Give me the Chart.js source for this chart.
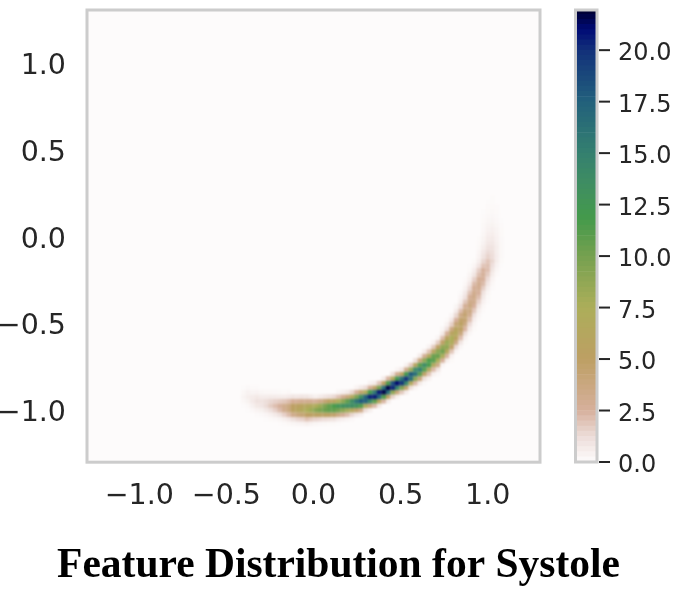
<!DOCTYPE html>
<html><head><meta charset="utf-8">
<style>html,body{margin:0;padding:0;background:#fff;overflow:hidden}
#wrap{position:relative;width:681px;height:613px}
canvas{position:absolute;top:0;display:block}</style>
<script src="https://cdn.jsdelivr.net/npm/chart.js@4"></script></head>
<body><div id="wrap"><canvas id="main" width="681" height="613" style="left:0"></canvas><canvas id="bar" width="121" height="480" style="left:560px"></canvas></div>
<script>
const titleText = "Feature Distribution for Systole";
const axisTicks = [-1, -0.5, 0, 0.5, 1];
const axisMin = -1.3, axisMax = 1.3, binCount = 100;
const colourbarTicks = [0, 2.5, 5, 7.5, 10, 12.5, 15, 17.5, 20];
const colourbarMax = 21.95;
const colourStops = [[0,"#fdfbfb"],[1.25,"#ecdcd8"],[2.5,"#d6b09c"],[5,"#bd9f63"],[7.5,"#acae5a"],[10,"#75a04f"],[11.8,"#449a4b"],[13.5,"#3f8d62"],[15,"#34806f"],[17.5,"#22607c"],[20,"#12307a"],[21,"#000a75"],[21.95,"#00002f"]];
// lower arc, listed by column
const firstColumn = 34;
const firstRows = [12,11,11,10,10,9,9,9,8,8,8,8,8,8,8,8,8,8,8,8,8,8,9,9,9,10,10,11,11,12,12,13,13,14,14,15,15,16,16,17,17,18,19,19];
const columnValues = [
[.05,.18,.3,.18,.05],
[.04,.14,.34,.5,.36,.12],
[.15,.43,.68,.61,.29,.08],
[.07,.31,.74,1,.74,.31,.07],
[.12,.42,.87,.97,.61,.21],
[.04,.23,.73,1.25,1.17,.6,.17],
[.1,.4,1.1,1.7,1.4,.65,.17],
[.15,.65,1.55,2.1,1.55,.65,.15],
[.03,.26,1,2.15,2.6,1.7,.62,.13],
[.07,.46,1.55,3,3.15,1.85,.6,.1],
[.14,.72,2.16,3.75,3.75,2.16,.72,.14],
[.22,1.1,3.2,5.25,5,2.75,.85],
[.3,1.4,3.8,5.85,5.25,2.7,.8],
[.33,1.55,4.2,6.4,5.8,3,.9],
[.45,2,5,7.3,6.2,3,.85],
[.33,1.7,5.2,8.1,6.7,2.9,.66],
[.2,1.5,5.3,9.1,7.2,2.7,.45],
[.16,1.35,5.3,9.7,8.3,3.35,.64],
[.13,1.2,5.3,10.3,9.6,4.2,.9],
[.1,1.1,5.1,10.7,10.7,5.1,1.1],
[.1,1,4.7,10.7,11.6,5.9,1.35],
[.05,.64,3.7,10,12.6,7.4,2,.26],
[.44,2.9,9,13.2,9,2.9,.44],
[.28,2.2,8,13.6,10.8,4,.7],
[.15,1.4,6.4,13.6,13.6,6.4,1.4],
[.8,4.8,13,16.2,9.6,2.6,.33],
[.47,3.4,11.3,17.9,13.3,4.5,.7],
[1.2,7,17.4,17.4,7,1.2],
[.5,3.9,14.1,20.4,11.9,2.8,.4],
[2.3,10.9,20.6,15.7,4.8,.6],
[.75,5.8,17.2,20.6,9.9,1.9],
[2.4,11.4,21.6,16.5,5,.66],
[.66,5,16.5,21.6,11.4,2.4],
[1.5,8.9,20.3,18.5,6.8,1.1],
[.45,4,14.6,21.1,12.3,2.9,.3],
[1.8,9.4,19.7,16.4,5.5,.8],
[.6,4.5,14.4,19.9,12,3.2,.4],
[1.1,6.6,16.3,17.9,8.4,1.7],
[.27,2.3,9,16.5,14.1,5.8,1.1],
[.7,3.9,11,15.5,11,3.9,.7],
[.14,1.1,4.9,11.3,13.9,8.8,2.9,.56],
[.38,2,6.4,11.6,11.6,6.4,2,.38],
[.46,2.3,6.7,11,10.4,5.8,1.8,.35],
[.16,.9,3.4,7.5,10.4,9,4.9,1.7,.3]
];
// upper arc, listed by row
const firstRow = 21;
const firstColumns = [78,78,78,78,78,78,78,78,78,79,79,80,81,81,82,82,82,83,83,83,84,84,84,85,86,86,86,86,86,87,87,87,87,87,87,88,88,89];
const rowValues = [
[.3],
[2.6,.5,.1],
[7.6,2.4,.4],
[10.2,6.1,1.9,.3],
[8.7,8.7,4.7,1.3,.2],
[4.9,8.3,7.2,3.4,.85,.1],
[2.1,5.5,7.5,5.5,2.1,.4],
[.7,2.7,5.7,6.5,3.9,1.2,.2],
[.2,1.1,3.5,5.8,5.1,2.4,.6,.1],
[.4,1.6,4.1,5.3,3.6,1.3,.25],
[.1,.8,2.5,4.6,4.3,2.1,.55,.1],
[.3,1.4,3.4,4.4,3,1.05,.2],
[.64,2.1,3.8,3.6,1.8,.46,.08],
[.26,1.15,2.85,3.7,2.5,.9,.18],
[.56,1.85,3.3,3.1,1.5,.4,.07],
[.27,1,2.7,3.25,2.1,.7,.13],
[.12,.67,2,3.15,2.6,1,.25],
[.36,1.35,2.75,2.95,1.65,.5,.08],
[.17,.84,2.2,3,2.2,.84,.17],
[.08,.46,1.55,2.75,2.6,1.27,.33],
[.28,.9,2.1,2.7,1.75,.6,.1],
[.1,.55,1.65,2.55,2.1,.9,.22],
[.05,.25,.97,1.95,2.1,1.15,.35,.05],
[.1,.53,1.4,1.9,1.4,.53,.1],
[.33,.98,1.5,1.2,.55,.13],
[.25,.75,1.25,1.1,.5,.13],
[.14,.52,.97,.97,.52,.14],
[.09,.37,.76,.8,.45,.13],
[.06,.28,.6,.67,.4,.12],
[.22,.47,.53,.32,.1],
[.16,.37,.43,.27,.09],
[.13,.29,.34,.21,.07],
[.1,.22,.26,.16,.05],
[.07,.16,.19,.12],
[.05,.1,.14,.09],
[.08,.1,.07],
[.05,.06],
[.06]
];

const hex = h => [1,3,5].map(k => parseInt(h.substr(k,2),16));
function colourFor(v){
  for(let k=1;k<colourStops.length;k++){
    if(v<=colourStops[k][0]){
      const [a,ca]=colourStops[k-1],[b,cb]=colourStops[k];
      const t=Math.max(0,(v-a)/(b-a)),p=hex(ca),q=hex(cb);
      return `rgb(${p.map((c,n)=>Math.round(c+(q[n]-c)*t)).join(",")})`;
    }
  }
  return colourStops[colourStops.length-1][1];
}
const binWidth=(axisMax-axisMin)/binCount;
const binCentre=n=>axisMin+binWidth*(n+.5);
const cells=[],cellColours=[];
columnValues.forEach((vals,c)=>vals.forEach((v,r)=>{
  cells.push({x:binCentre(firstColumn+c),y:binCentre(firstRows[c]+r)});
  cellColours.push(colourFor(v));
}));
rowValues.forEach((vals,r)=>vals.forEach((v,c)=>{
  cells.push({x:binCentre(firstColumns[r]+c),y:binCentre(firstRow+r)});
  cellColours.push(colourFor(v));
}));
const tickFont={family:"'DejaVu Sans'",size:28.5};
const textColour="#262626",frameColour="#cccccc",planeColour="#fdfbfb";

const plane={id:"plane",
  beforeDatasetsDraw(ch){const a=ch.chartArea,x=ch.ctx;x.save();x.fillStyle=planeColour;x.fillRect(a.left,a.top,a.width,a.height);x.restore();},
  afterDatasetsDraw(ch){const a=ch.chartArea,x=ch.ctx;x.save();x.beginPath();x.rect(a.left,a.top,a.width,a.height);x.clip();x.filter="blur(1px)";x.drawImage(ch.canvas,0,0);x.restore();},
  afterDraw(ch){const a=ch.chartArea,x=ch.ctx;x.save();x.strokeStyle=frameColour;x.lineWidth=3;x.strokeRect(a.left,a.top,a.width,a.height);x.restore();}
};
const noPad=s=>{s.paddingTop=0;s.paddingBottom=0;};
// nudges a vertical axis's labels down so they sit where the reference puts them
const nudgeLabels=dy=>s=>{
  if(s._nudged)return; s._nudged=true;
  const draw=s.drawLabels.bind(s);
  s.drawLabels=a=>{s.ctx.save();s.ctx.translate(0,dy);draw(a);s.ctx.restore();};
};
new Chart(document.getElementById("main"),{
  type:"scatter",
  data:{datasets:[{data:cells,pointStyle:"rect",pointRadius:3.3,pointHoverRadius:3.3,pointBorderWidth:0,pointBackgroundColor:cellColours,clip:true}]},
  plugins:[plane],
  options:{responsive:false,animation:false,
    layout:{padding:{left:0,right:4,top:10,bottom:22}},
    plugins:{legend:{display:false},tooltip:{enabled:false},
      title:{display:true,text:titleText,position:"bottom",color:"#000",padding:0,
        font:{family:"'Liberation Serif'",weight:"bold",size:41.5,lineHeight:1.2}}},
    scales:{
      x:{min:axisMin,max:axisMax,grid:{display:false,drawTicks:false},border:{display:false},
        afterBuildTicks(s){s.ticks=axisTicks.map(v=>({value:v}));},
        afterFit(s){s.height=79;s.paddingLeft=0;s.paddingRight=0;},
        ticks:{font:tickFont,color:textColour,padding:17,maxRotation:0,autoSkip:false,callback:v=>(v<0?"\u2212":"")+Math.abs(v).toFixed(1)}},
      y:{min:axisMin,max:axisMax,grid:{display:false,drawTicks:false},border:{display:false},
        afterBuildTicks(s){s.ticks=axisTicks.map(v=>({value:v}));},
        afterFit(s){s.width=87;noPad(s);},
        afterUpdate:nudgeLabels(4),
        ticks:{font:tickFont,color:textColour,padding:21,autoSkip:false,callback:v=>(v<0?"\u2212":"")+Math.abs(v).toFixed(1)}},
      gap:{position:"right",display:true,grid:{display:false,drawTicks:false},border:{display:false},ticks:{display:false},afterFit(s){s.width=137;noPad(s);}}
    }}
});

const levels=[];
for(let v=0;v<colourbarMax;v+=.25)levels.push(v);
const barFrame={id:"barFrame",afterDraw(ch){
  const a=ch.chartArea,x=ch.ctx,s=ch.scales.y;
  x.save();x.strokeStyle=frameColour;x.lineWidth=3;x.strokeRect(a.left,a.top,a.width,a.height);
  x.strokeStyle=textColour;x.lineWidth=2;
  colourbarTicks.forEach(v=>{const py=s.getPixelForValue(v);x.beginPath();x.moveTo(a.right+2,py);x.lineTo(a.right+13,py);x.stroke();});
  x.restore();}};
new Chart(document.getElementById("bar"),{
  type:"bar",
  data:{labels:[""],datasets:levels.map(v=>({data:[Math.min(.25,colourbarMax-v)],backgroundColor:colourFor(v+.125),borderWidth:0,barPercentage:1,categoryPercentage:1,stack:"c"}))},
  plugins:[barFrame],
  options:{responsive:false,animation:false,
    layout:{padding:{left:15.5,right:0,top:10,bottom:18}},
    plugins:{legend:{display:false},tooltip:{enabled:false}},
    scales:{
      x:{stacked:true,display:false},
      y:{stacked:true,position:"right",min:0,max:colourbarMax,grid:{display:false,drawTicks:false},border:{display:false},
        afterBuildTicks(s){s.ticks=colourbarTicks.map(v=>({value:v}));},
        afterFit(s){s.width=84;noPad(s);},
        afterUpdate:nudgeLabels(4),
        ticks:{font:{family:"'DejaVu Sans'",size:24},color:textColour,padding:21,autoSkip:false,callback:v=>v.toFixed(1)}}
    }}
});
</script></body></html>
